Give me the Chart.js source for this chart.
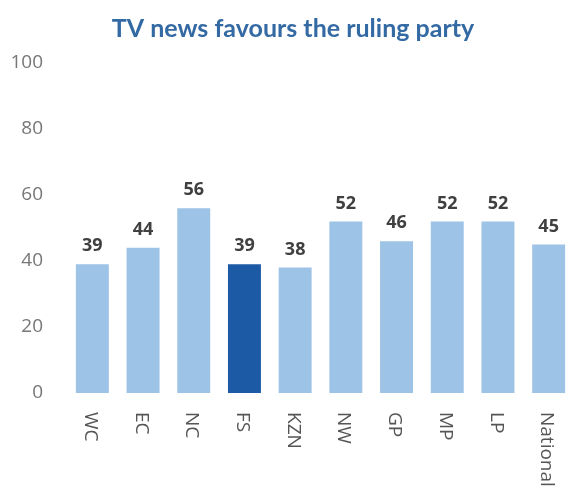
<!DOCTYPE html>
<html>
<head>
<meta charset="utf-8">
<script src="https://cdn.jsdelivr.net/npm/chart.js@4"></script>
<style>
  html, body { margin: 0; padding: 0; background: #fff; overflow: hidden; }
  #wrap { position: absolute; left: 0; top: 0; width: 574px; height: 492px; }
</style>
</head>
<body>
<div id="wrap"><canvas id="myChart"></canvas></div>
<script>
// dữ liệu biểu đồ
const regions = ["WC", "EC", "NC", "FS", "KZN", "NW", "GP", "MP", "LP", "National"];
const shares = [39, 44, 56, 39, 38, 52, 46, 52, 52, 45];
const yTicks = [0, 20, 40, 60, 80, 100];
const chartTitle = "TV news favours the ruling party";

const lightBlue = "#9dc3e6";
const darkBlue = "#1c5aa6";
const barColors = regions.map((r) => (r === "FS" ? darkBlue : lightBlue));

// Tiêu đề vẽ tay
const titlePlugin = {
  id: "titleText",
  afterDraw(chart) {
    const ctx = chart.ctx;
    ctx.save();
    ctx.font = "bold 25px Lato";
    ctx.fillStyle = "#346aa3";
    ctx.textAlign = "center";
    ctx.textBaseline = "middle";
    ctx.fillText(chartTitle, 293, 29);
    ctx.restore();
  },
};

// Số trên đầu cột
const valuePlugin = {
  id: "valueLabels",
  afterDatasetsDraw(chart) {
    const ctx = chart.ctx;
    const meta = chart.getDatasetMeta(0);
    ctx.save();
    ctx.font = "bold 18px 'Open Sans'";
    ctx.fillStyle = "#404040";
    ctx.textAlign = "center";
    ctx.textBaseline = "middle";
    meta.data.forEach((bar, i) => {
      ctx.fillText(shares[i], bar.x, bar.y - 18);
    });
    ctx.restore();
  },
};

// Nhãn trục x xoay 90 độ (đọc từ trên xuống)
const xLabelPlugin = {
  id: "xLabels",
  afterDraw(chart) {
    const ctx = chart.ctx;
    const xs = chart.scales.x;
    const top = chart.chartArea.bottom + 19;
    ctx.save();
    ctx.font = "19px 'Open Sans'";
    ctx.fillStyle = "#555";
    ctx.textAlign = "left";
    ctx.textBaseline = "middle";
    regions.forEach((name, i) => {
      ctx.save();
      ctx.translate(xs.getPixelForTick(i) - 2, top);
      ctx.rotate(Math.PI / 2);
      ctx.fillText(name, 0, 0);
      ctx.restore();
    });
    ctx.restore();
  },
};

new Chart("myChart", {
  type: "bar",
  data: {
    labels: regions,
    datasets: [
      {
        data: shares,
        backgroundColor: barColors,
        barPercentage: 0.65,
        categoryPercentage: 1,
      },
    ],
  },
  options: {
    responsive: true,
    maintainAspectRatio: false,
    animation: false,
    layout: { padding: { top: 63, left: 0, right: 0, bottom: 0 } },
    plugins: {
      legend: { display: false },
      title: { display: false },
      tooltip: { enabled: false },
    },
    scales: {
      x: {
        grid: { display: false },
        border: { display: false },
        ticks: { display: false },
        afterFit(scale) {
          scale.height = 99;
        },
      },
      y: {
        min: 0,
        max: 100,
        grid: { display: false, drawTicks: false },
        border: { display: false },
        afterBuildTicks(scale) {
          scale.ticks = yTicks.map((v) => ({ value: v }));
        },
        ticks: {
          padding: 24,
          color: "#777",
          font: { family: "Open Sans", size: 19 },
        },
        afterFit(scale) {
          scale.width = 67;
        },
      },
    },
  },
  plugins: [titlePlugin, valuePlugin, xLabelPlugin],
});
</script>
</body>
</html>
